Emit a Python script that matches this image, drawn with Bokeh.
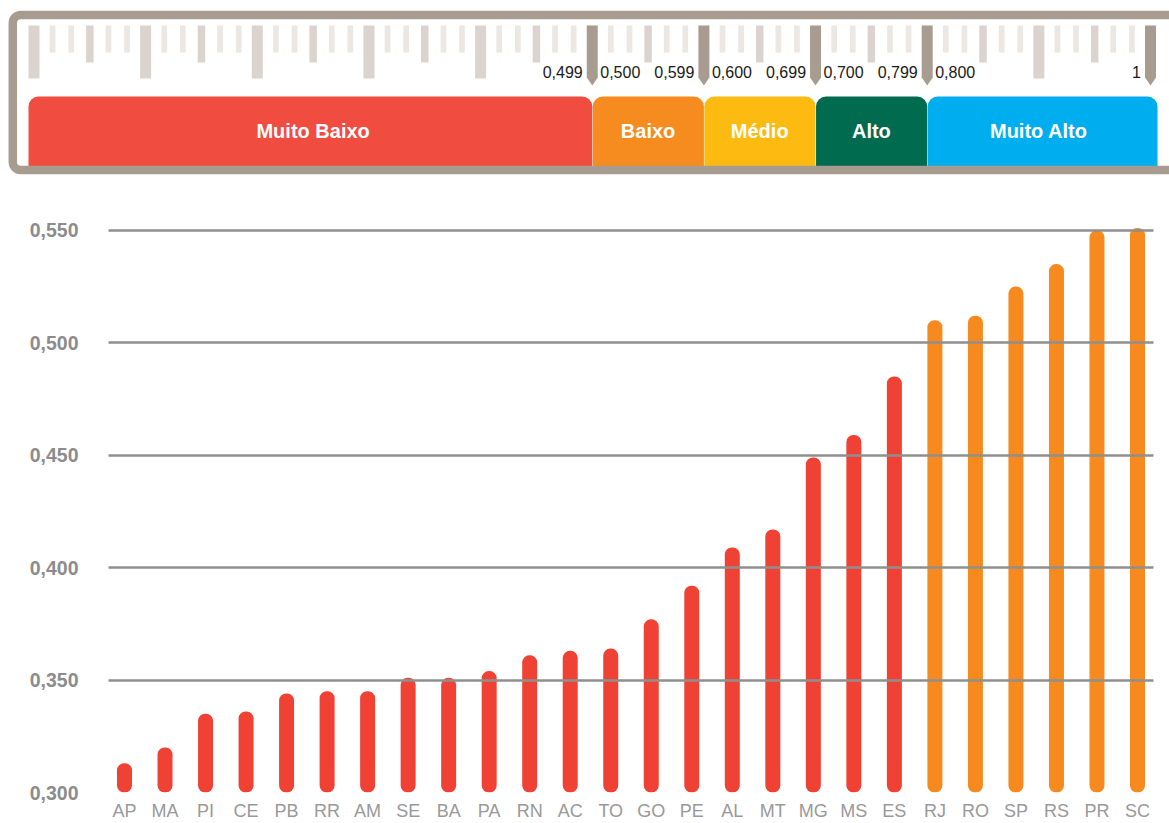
from bokeh.plotting import figure
from bokeh.models import Range1d, FixedTicker, ColumnDataSource
from bokeh.layouts import column
from bokeh.embed import file_html
from bokeh.resources import INLINE
from bokeh.core.properties import value

# ---------------- data ----------------
states = ["AP", "MA", "PI", "CE", "PB", "RR", "AM", "SE", "BA", "PA", "RN", "AC", "TO",
          "GO", "PE", "AL", "MT", "MG", "MS", "ES", "RJ", "RO", "SP", "RS", "PR", "SC"]
idh = [0.313, 0.320, 0.335, 0.336, 0.344, 0.345, 0.345, 0.351, 0.351, 0.354, 0.361, 0.363, 0.364,
       0.377, 0.392, 0.409, 0.417, 0.449, 0.459, 0.485, 0.510, 0.512, 0.525, 0.535, 0.550, 0.551]
y_ticks = [0.300, 0.350, 0.400, 0.450, 0.500, 0.550]
y_tick_labels = ["0,300", "0,350", "0,400", "0,450", "0,500", "0,550"]

band_names = ["Muito Baixo", "Baixo", "Médio", "Alto", "Muito Alto"]
band_edges = [0.0, 0.5, 0.6, 0.7, 0.8, 1.0]
band_colors = ["#F14C40", "#F68B1F", "#FDBB12", "#006B4F", "#00AEEF"]
dark_marks = [0.5, 0.6, 0.7, 0.8, 1.0]
left_labels = ["0,499", "0,599", "0,699", "0,799", "1"]
right_labels = ["0,500", "0,600", "0,700", "0,800", ""]

BAR_RED = "#F04135"
BAR_ORANGE = "#F68A1F"
FONT = "Liberation Sans"

# ---------------- header (scale) ----------------
W = 1169
HH = 190
PX0 = 33.5          # page x of value 0
PXU = 1116.5        # pixels per unit value
def px(d):
    return d / PXU

hx0 = (0 - PX0) / PXU
hx1 = (W - PX0) / PXU
h = figure(width=W, height=HH, x_range=Range1d(hx0, hx1), y_range=Range1d(HH, 0),
           x_axis_location=None, y_axis_location=None, toolbar_location=None,
           output_backend="svg", min_border=0, outline_line_color=None)
h.grid.visible = False
h.frame_align = False

# ruler ticks
tx, tw, tb, tc = [], [], [], []
for i in range(61):
    v = i / 60
    if any(abs(v - d) < 1e-9 for d in dark_marks):
        continue
    if i % 6 == 0:
        tx.append(v); tw.append(px(11)); tb.append(78); tc.append("#DBD4CE")
    elif i % 3 == 0:
        tx.append(v); tw.append(px(7.5)); tb.append(62); tc.append("#DBD4CE")
    else:
        tx.append(v); tw.append(px(5.7)); tb.append(52); tc.append("#ECE7E3")
h.vbar(x=tx, width=tw, top=25, bottom=tb, fill_color=tc, line_color=None)

# dark marks with arrow point
h.vbar(x=dark_marks, width=px(11), top=25, bottom=77.5, fill_color="#A89C91", line_color=None)
h.patches(xs=[[d - px(5.5), d + px(5.5), d] for d in dark_marks],
          ys=[[77, 77, 85] for d in dark_marks], fill_color="#A89C91", line_color=None)

# boundary labels
h.text(x=[d - px(9.5) for d in dark_marks], y=71, text=left_labels, text_align="right",
       text_baseline="middle", text_font=value(FONT), text_font_size="16px", text_color="#1A1A1A")
h.text(x=[d + px(8) for d in dark_marks], y=71, text=right_labels, text_align="left",
       text_baseline="middle", text_font=value(FONT), text_font_size="16px", text_color="#1A1A1A")

# coloured bands
bl = list(band_edges[:-1]); br = list(band_edges[1:])
bl[0] -= px(5.5); br[-1] += px(7)
bl = [b + (px(0.5) if i else 0) for i, b in enumerate(bl)]
h.quad(left=bl, right=br, top=96, bottom=172, fill_color=band_colors, line_color=None,
       border_radius=(10, 10, 0, 0))
h.text(x=[(a + b) / 2 for a, b in zip(band_edges[:-1], band_edges[1:])], y=130, text=band_names,
       text_align="center", text_baseline="middle", text_font=value(FONT), text_font_size="20px",
       text_font_style="bold", text_color="white")

# frame
h.quad(left=px(12.3 - PX0), right=px(1180 - PX0), top=14.5, bottom=169.5, fill_color=None,
       line_color="#A89B8F", line_width=8.5, border_radius=8)

# ---------------- bar chart ----------------
HC = 823 - HH
xs = list(range(len(states)))
colors = [BAR_ORANGE if v >= band_edges[1] else BAR_RED for v in idh]
src = ColumnDataSource(dict(x=xs, top=idh, color=colors))

p = figure(width=W, height=HC, x_range=Range1d(-0.395, len(states) - 1 + 0.395),
           y_range=Range1d(0.300, 0.5535), toolbar_location=None, output_backend="svg",
           min_border_left=108, min_border_right=16, min_border_top=32, min_border_bottom=27,
           outline_line_color=None)
p.frame_align = False
p.vbar(x="x", top="top", bottom=0.29, width=0.37, fill_color="color", line_color=None,
       border_radius=7, source=src)

p.xgrid.visible = False
p.ygrid.ticker = FixedTicker(ticks=y_ticks)
p.ygrid.grid_line_color = "#8F8F8F"
p.ygrid.grid_line_width = 2.5
p.ygrid.level = "annotation"

p.yaxis.ticker = FixedTicker(ticks=y_ticks)
p.yaxis.major_label_overrides = {t: l for t, l in zip(y_ticks, y_tick_labels)}
p.yaxis.major_label_text_font = FONT
p.yaxis.major_label_text_font_size = "19.5px"
p.yaxis.major_label_text_font_style = "bold"
p.yaxis.major_label_text_color = "#8C8C8C"
p.yaxis.major_label_standoff = 30

p.xaxis.ticker = FixedTicker(ticks=xs)
p.xaxis.major_label_overrides = {i: s for i, s in enumerate(states)}
p.xaxis.major_label_text_font = FONT
p.xaxis.major_label_text_font_size = "18px"
p.xaxis.major_label_text_color = "#999999"
p.xaxis.major_label_standoff = 8

for ax in (p.xaxis, p.yaxis):
    ax.axis_line_color = None
    ax.major_tick_line_color = None
    ax.minor_tick_line_color = None
    ax.major_tick_out = 0
    ax.major_tick_in = 0
    ax.minor_tick_out = 0
    ax.minor_tick_in = 0

layout = column(h, p, spacing=0)
open("out.html", "w").write(file_html(layout, INLINE))
